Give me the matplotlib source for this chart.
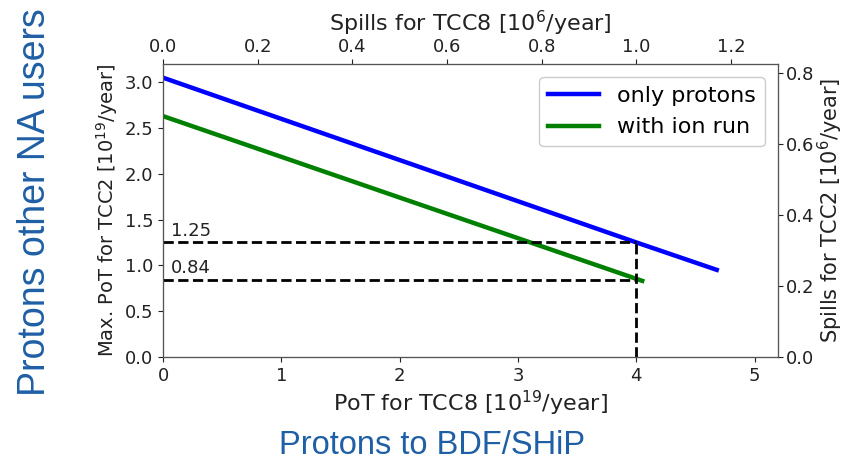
import matplotlib
matplotlib.use("Agg")
import matplotlib.pyplot as plt

# Data
pot_only = [0.0, 4.0, 4.68]
max_only = [3.05, 1.25, 0.95]
pot_ion = [0.0, 2.0, 4.05]
max_ion = [2.63, 1.74, 0.83]
ref_x = 4.0
ref_levels = [1.25, 0.84]
ref_labels = ["1.25", "0.84"]
top_ticks = [0.0, 0.2, 0.4, 0.6, 0.8, 1.0, 1.2]
right_ticks = [0.0, 0.2, 0.4, 0.6, 0.8]
spill_tcc8 = 4.0   # 1e19 PoT per 1e6 spills
spill_tcc2 = 3.88

fig = plt.figure(figsize=(8.45, 4.67), dpi=100)
ax = fig.add_axes([0.193, 0.236, 0.728, 0.627])

ax.plot(pot_only, max_only, color="blue", lw=3.2, label="only protons")
ax.plot(pot_ion, max_ion, color="green", lw=3.2, label="with ion run")
for lvl, lab in zip(ref_levels, ref_labels):
    ax.plot([0, ref_x], [lvl, lvl], "k--", lw=2)
    ax.text(0.07, lvl + 0.03, lab, fontsize=13, ha="left", va="bottom",
            color="#222222")
ax.plot([ref_x, ref_x], [0, ref_levels[0]], "k--", lw=2)

xmax, ymax = 5.2, 3.2
ax.set_xlim(0, xmax)
ax.set_ylim(0, ymax)
ax.set_xticks([0, 1, 2, 3, 4, 5])
ax.set_yticks([0.0, 0.5, 1.0, 1.5, 2.0, 2.5, 3.0])
ax.tick_params(labelsize=13, colors="#222222")
ax.set_xlabel("PoT for TCC8 [10$^{19}$/year]", fontsize=16, color="#222222",
              labelpad=3)
ax.set_ylabel("Max. PoT for TCC2 [10$^{19}$/year]", fontsize=14,
              color="#222222", labelpad=3)
ax.legend(loc="upper right", fontsize=16, handlelength=2.3, framealpha=1,
          edgecolor="#cccccc", borderaxespad=0.6)

axt = ax.twiny()
axt.set_xlim(0, xmax / spill_tcc8)
axt.set_xticks(top_ticks)
axt.tick_params(labelsize=13, colors="#222222", pad=2)
axt.set_xlabel("Spills for TCC8 [10$^6$/year]", fontsize=16, color="#222222",
               labelpad=5)

axr = ax.twinx()
axr.set_ylim(0, ymax / spill_tcc2)
axr.set_yticks(right_ticks)
axr.tick_params(labelsize=13, colors="#222222", pad=2)
axr.set_ylabel("Spills for TCC2 [10$^6$/year]", fontsize=15,
               color="#222222", labelpad=1)

for a in (ax, axt, axr):
    for s in a.spines.values():
        s.set_color("#555555")

blue_txt = "#1f5fa5"
fig.text(0.042, 0.567, "Protons other NA users", rotation=90, fontsize=27,
         color=blue_txt, family="Liberation Sans", ha="center", va="center")
fig.text(0.511, 0.047, "Protons to BDF/SHiP", fontsize=23.5,
         color=blue_txt, family="Liberation Sans", ha="center", va="center")

fig.savefig("out.png", dpi=100)
